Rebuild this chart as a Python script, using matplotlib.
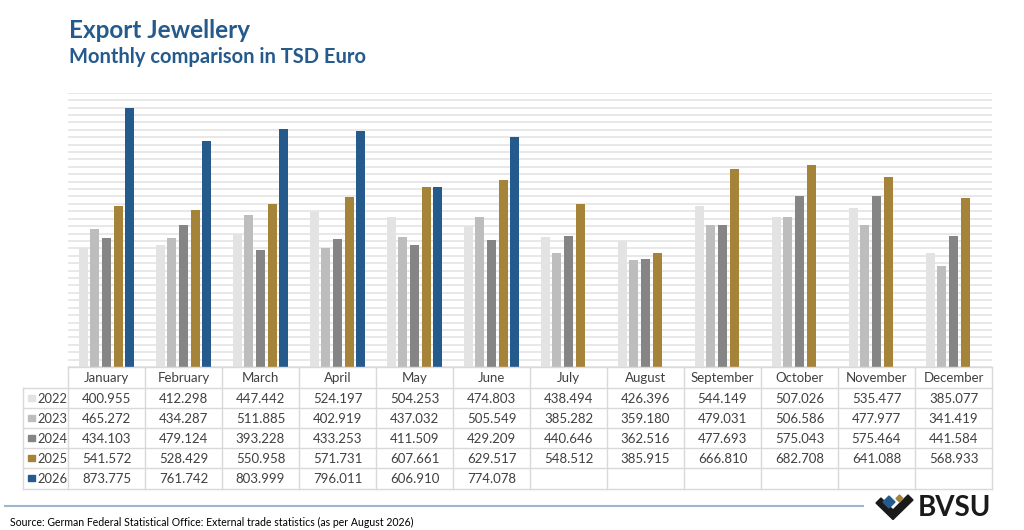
import numpy as np
import matplotlib
matplotlib.use("Agg")
import matplotlib.pyplot as plt
from matplotlib.patches import Rectangle, Polygon

# data (thousand euro)
months = ["January", "February", "March", "April", "May", "June", "July",
          "August", "September", "October", "November", "December"]
years = ["2022", "2023", "2024", "2025", "2026"]
v2022 = [400.955, 412.298, 447.442, 524.197, 504.253, 474.803, 438.494,
         426.396, 544.149, 507.026, 535.477, 385.077]
v2023 = [465.272, 434.287, 511.885, 402.919, 437.032, 505.549, 385.282,
         359.180, 479.031, 506.586, 477.977, 341.419]
v2024 = [434.103, 479.124, 393.228, 433.253, 411.509, 429.209, 440.646,
         362.516, 477.693, 575.043, 575.464, 441.584]
v2025 = [541.572, 528.429, 550.958, 571.731, 607.661, 629.517, 548.512,
         385.915, 666.810, 682.708, 641.088, 568.933]
v2026 = [873.775, 761.742, 803.999, 796.011, 606.910, 774.078]
series = [v2022, v2023, v2024, v2025, v2026]
colors = ["#e3e3e3", "#bdbdbd", "#858585", "#a5843a", "#255a8c"]

FONT = ["Lato", "DejaVu Sans"]
plt.rcParams["font.family"] = FONT

W, H = 1024, 530
fig = plt.figure(figsize=(W / 100, H / 100), dpi=100)

# plot area in pixels
left, right, top, base = 68, 992, 92.7, 367
ax = fig.add_axes([left / W, (H - base) / H, (right - left) / W, (base - top) / H])
ax.set_xlim(-0.5, 11.5)
ax.set_ylim(0, 925)
ax.set_yticks(np.arange(0, 926, 25))
ax.set_yticklabels([])
ax.set_xticks([])
ax.tick_params(left=False)
ax.grid(axis="y", color="#e2e2e2", lw=1.1)
ax.set_axisbelow(True)
for s in ax.spines.values():
    s.set_visible(False)

step, bw = 0.152, 0.117
x = np.arange(len(months))
for k, (vals, c) in enumerate(zip(series, colors)):
    xs = x[:len(vals)] + (k - 2) * step
    ax.bar(xs, vals, width=bw, color=c, zorder=3)

# overlay in pixel coords for table, titles, footer
deco = fig.add_axes([0, 0, 1, 1], zorder=5)
deco.set_xlim(0, W)
deco.set_ylim(H, 0)
deco.axis("off")
deco.patch.set_alpha(0)

fig.text(69 / W, 1 - 30 / H, "Export Jewellery", color="#255a8c",
         fontsize=17.5, fontweight="bold", va="center", ha="left")
fig.text(69 / W, 1 - 57 / H, "Monthly comparison in TSD Euro", color="#255a8c",
         fontsize=14.5, fontweight="bold", va="center", ha="left")

# table
cw = (right - left) / len(months)
colx = [left + j * cw for j in range(len(months) + 1)]
row_h = 20.1
hdr_top, hdr_bot = base, base + 21
row_tops = [hdr_bot + i * row_h for i in range(len(years) + 1)]
lab_left = 23
gc = "#d9d9d9"

deco.plot([left, right], [hdr_top, hdr_top], color=gc, lw=1)
for y in row_tops:
    deco.plot([lab_left, right], [y, y], color=gc, lw=1)
for xx in colx:
    deco.plot([xx, xx], [hdr_top, row_tops[-1]], color=gc, lw=1)
deco.plot([lab_left, lab_left], [hdr_bot, row_tops[-1]], color=gc, lw=1)

tc = "#404040"
for j, m in enumerate(months):
    deco.text(colx[j] + cw / 2, (hdr_top + hdr_bot) / 2 + 0.5, m, ha="center",
              va="center", fontsize=9.5, color=tc)

for i, (yr, vals, c) in enumerate(zip(years, series, colors)):
    yc = row_tops[i] + row_h / 2
    deco.add_patch(Rectangle((28, yc - 3.5), 6.5, 6.5, color=c))
    deco.text(37, yc + 0.5, yr, ha="left", va="center", fontsize=9.3, color=tc)
    for j, v in enumerate(vals):
        deco.text(colx[j] + cw / 2, yc + 0.5, f"{v:.3f}", ha="center",
                  va="center", fontsize=9.5, color=tc)

# footer
deco.plot([5, 863], [505.5, 505.5], color="#9fb5d0", lw=1.5)
deco.text(10, 522, "Source: German Federal Statistical Office: External trade "
          "statistics (as per August 2026)", ha="left", va="center",
          fontsize=7.6, color="#000000")

# logo
deco.add_patch(Polygon([(876, 503), (881, 498), (893, 510), (908, 495),
                        (913, 500), (893, 519.5)], closed=True, color="#1a1a1a"))
deco.add_patch(Polygon([(883, 502), (889, 496), (895, 502), (889, 508)],
                       closed=True, color="#255a8c"))
deco.add_patch(Polygon([(896, 498.5), (899.5, 495), (903, 498.5), (899.5, 502)],
                       closed=True, color="#a5843a"))
deco.text(918, 507.5, "BVSU", ha="left", va="center", fontsize=20,
          fontweight="bold", color="#1a1a1a")

fig.savefig("out.png", dpi=100)
